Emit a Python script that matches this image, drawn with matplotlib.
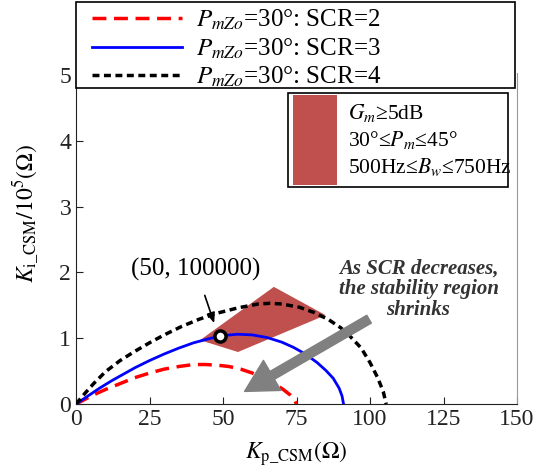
import matplotlib
matplotlib.use("Agg")
import matplotlib.pyplot as plt
from matplotlib.patches import Polygon, Rectangle, FancyArrowPatch

plt.rcParams['font.family'] = ['Liberation Serif', 'DejaVu Serif']
plt.rcParams['mathtext.fontset'] = 'stix'

# stability boundaries (Kp, Ki/1e5)
kp_scr2 = [0, 3, 6, 10, 15, 20, 25, 30, 35, 40, 44, 48, 52, 56, 60, 64, 67.5, 70.5, 72.8, 74.2, 75]
ki_scr2 = [0, 0.07, 0.14, 0.22, 0.31, 0.4, 0.47, 0.53, 0.57, 0.6, 0.6, 0.59, 0.57, 0.53, 0.47, 0.39, 0.31, 0.22, 0.14, 0.07, 0]

kp_scr3 = [0, 2, 5, 8, 12, 16, 20, 25, 30, 35, 40, 45, 50, 55, 60, 65, 70, 74, 78, 82, 85, 87.5, 89.5, 90.5, 91]
ki_scr3 = [0, 0.06, 0.15, 0.24, 0.35, 0.45, 0.55, 0.66, 0.76, 0.85, 0.93, 0.99, 1.04, 1.06, 1.05, 1.01, 0.94, 0.86, 0.76, 0.63, 0.51, 0.39, 0.24, 0.12, 0]

kp_scr4 = [0, 3, 6, 10, 15, 20, 25, 30, 36, 42, 48, 55, 62, 66, 70, 76, 81, 86, 90, 93, 97, 100, 102.5, 104.5, 105.5]
ki_scr4 = [0, 0.16, 0.31, 0.49, 0.66, 0.8, 0.93, 1.05, 1.18, 1.29, 1.38, 1.46, 1.52, 1.53, 1.52, 1.47, 1.39, 1.28, 1.16, 1.04, 0.85, 0.63, 0.41, 0.19, 0]

# region meeting Gm/Pm/Bw targets
region_kp = [42.2, 67.3, 84.9, 55.1]
region_ki = [0.97, 1.78, 1.35, 0.79]

point_kp, point_ki = 49, 1.04

labels = [r'$P_{mZo}$=30°: SCR=2', r'$P_{mZo}$=30°: SCR=3', r'$P_{mZo}$=30°: SCR=4']
spec_lines = [r'$G_m$≥5dB', r'30°≤$P_m$≤45°', r'500Hz≤$B_w$≤750Hz']

fig = plt.figure(figsize=(5.59, 4.69), dpi=100)
ax = fig.add_axes([76/559, 65/469, 441/559, 331/469])

ax.add_patch(Polygon(list(zip(region_kp, region_ki)), closed=True,
                     facecolor='#C0504D', edgecolor='none', zorder=1))

l1, = ax.plot(kp_scr2, ki_scr2, color='red', lw=2.5, dashes=(4, 2.2), label=labels[0], zorder=3)
l2, = ax.plot(kp_scr3, ki_scr3, color='blue', lw=2, label=labels[1], zorder=3)
l3, = ax.plot(kp_scr4, ki_scr4, color='black', lw=2.5, dashes=(2, 1.3), label=labels[2], zorder=3)

ax.plot([point_kp], [point_ki], 'o', ms=8, mfc='white', mec='black', mew=2.5, zorder=5)

ax.set_xlim(0, 150)
ax.set_ylim(0, 5.03)
ax.set_xticks([0, 25, 50, 75, 100, 125, 150])
ax.set_yticks([0, 1, 2, 3, 4, 5])
ax.tick_params(direction='in', labelsize=17, length=5, colors='#222222', labelcolor='#222222')
ax.spines['top'].set_visible(False)
ax.spines['right'].set_color('#999999')
for s in ['left', 'bottom']:
    ax.spines[s].set_color('#222222')

ax.set_xlabel(r'$K_{\mathrm{p\_CSM}}(\Omega)$', fontsize=17, labelpad=7)
ax.set_ylabel(r'$K_{\mathrm{i\_CSM}}/10^5(\Omega)$', fontsize=17)
ax.yaxis.set_label_coords(-0.08, 0.575)

# annotation of the chosen point
ax.annotate('', xy=(47.3, 1.19), xytext=(43.5, 1.69),
            arrowprops=dict(arrowstyle='-|>,head_length=0.6,head_width=0.25', color='black', lw=1.2))
ax.text(40.8, 2.04, '(50, 100000)', fontsize=18, ha='center', va='center')

# trend arrow
ax.add_patch(FancyArrowPatch((100.5, 1.31), (56.5, 0.17),
                             arrowstyle='simple,head_width=2.5,head_length=2.3,tail_width=0.65',
                             mutation_scale=10, color='#808080', capstyle='round', zorder=4))
ax.text(116.5, 1.74, 'As SCR decreases,\nthe stability region\nshrinks', fontsize=15,
        fontweight='bold', fontstyle='italic', color='#333333',
        ha='center', va='center', linespacing=1.05)

# spec box
ax.add_patch(Rectangle((72.1, 3.30), 74.8, 1.43, facecolor='white', edgecolor='black', lw=1.2, zorder=6))
ax.add_patch(Rectangle((73.8, 3.33), 15.0, 1.37, facecolor='#C0504D', edgecolor='none', zorder=7))
for yv, s in zip([4.42, 4.01, 3.60], spec_lines):
    ax.text(92.5, yv, s, fontsize=15.5, ha='left', va='center', zorder=8)

# legend frame drawn separately so the entries can sit where they do in the figure
fig.patches.append(Rectangle((76/559, 1 - 88/469), 439/559, 86/469, transform=fig.transFigure,
                             facecolor='white', edgecolor='black', lw=1.2, zorder=5))
leg = fig.legend(handles=[l1, l2, l3], loc='upper left', bbox_to_anchor=(92/559, 1 - 8/469),
                 fontsize=18, frameon=False, handlelength=3.6, handletextpad=0.55,
                 labelspacing=0.16, borderpad=0, borderaxespad=0)
leg.set_zorder(6)

fig.savefig('out.png', dpi=100)
